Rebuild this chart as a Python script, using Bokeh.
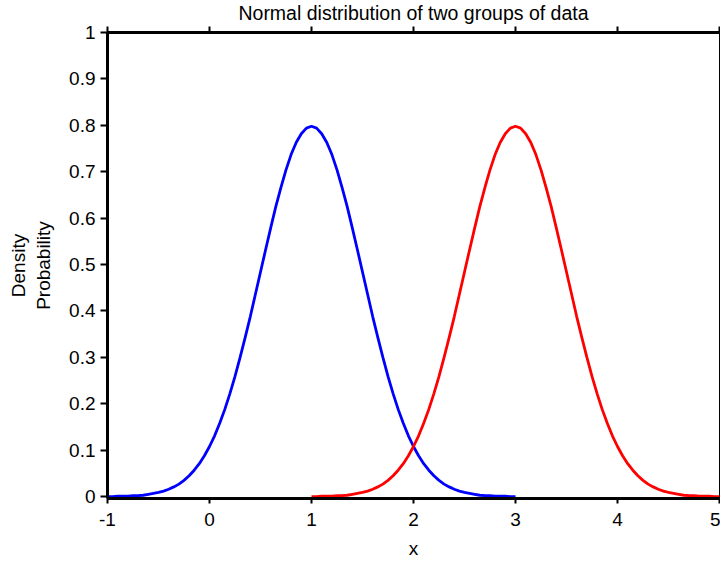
import numpy as np
from bokeh.plotting import figure
from bokeh.models import (LinearAxis, FixedTicker, Range1d,
                          CustomJSTickFormatter, CustomLabelingPolicy)
from bokeh.embed import file_html
from bokeh.resources import INLINE

# ---- data ----
blue_x = np.linspace(-1, 3, 81)
blue_density = [0.000, 0.000, 0.001, 0.001, 0.001, 0.002, 0.002, 0.003, 0.005, 0.007,
                0.009, 0.012, 0.016, 0.021, 0.027, 0.035, 0.045, 0.057, 0.071, 0.088,
                0.108, 0.131, 0.158, 0.188, 0.222, 0.259, 0.300, 0.343, 0.388, 0.436,
                0.484, 0.532, 0.579, 0.625, 0.666, 0.704, 0.737, 0.763, 0.782, 0.794,
                0.798,
                0.794, 0.782, 0.763, 0.737, 0.704, 0.666, 0.625, 0.579, 0.532, 0.484,
                0.436, 0.388, 0.343, 0.300, 0.259, 0.222, 0.188, 0.158, 0.131, 0.108,
                0.088, 0.071, 0.057, 0.045, 0.035, 0.027, 0.021, 0.016, 0.012, 0.009,
                0.007, 0.005, 0.003, 0.002, 0.002, 0.001, 0.001, 0.001, 0.000, 0.000]

red_x = np.linspace(1, 5, 81)
red_density = [0.000, 0.000, 0.001, 0.001, 0.001, 0.002, 0.002, 0.003, 0.005, 0.007,
               0.009, 0.012, 0.016, 0.021, 0.027, 0.035, 0.045, 0.057, 0.071, 0.088,
               0.108, 0.131, 0.158, 0.188, 0.222, 0.259, 0.300, 0.343, 0.388, 0.436,
               0.484, 0.532, 0.579, 0.625, 0.666, 0.704, 0.737, 0.763, 0.782, 0.794,
               0.798,
               0.794, 0.782, 0.763, 0.737, 0.704, 0.666, 0.625, 0.579, 0.532, 0.484,
               0.436, 0.388, 0.343, 0.300, 0.259, 0.222, 0.188, 0.158, 0.131, 0.108,
               0.088, 0.071, 0.057, 0.045, 0.035, 0.027, 0.021, 0.016, 0.012, 0.009,
               0.007, 0.005, 0.003, 0.002, 0.002, 0.001, 0.001, 0.001, 0.000, 0.000]

x_ticks = [-1, 0, 1, 2, 3, 4, 5]
y_ticks = [0, 0.1, 0.2, 0.3, 0.4, 0.5, 0.6, 0.7, 0.8, 0.9, 1]

title_text = "Normal distribution of two groups of data"
x_label = "x"
y_label = "Density\nProbability"

FONT = "Liberation Sans"
FS = "19px"

p = figure(width=720, height=561, output_backend="svg", toolbar_location=None,
           x_range=Range1d(-1, 5), y_range=Range1d(-0.004, 1),
           min_border_left=107, min_border_right=1, min_border_top=32,
           min_border_bottom=63, x_axis_location=None, y_axis_location=None)
p.background_fill_color = "white"
p.border_fill_color = "white"
p.grid.visible = False
p.outline_line_color = "black"
p.outline_line_width = 1

p.title.text = title_text
p.title.align = "center"
p.title.vertical_align = "top"
p.title.text_font = FONT
p.title.text_font_size = "19.5px"
p.title.text_font_style = "normal"
p.title.text_color = "black"
p.title.standoff = 2
p.title.offset = 0


def style_axis(ax, ticks):
    ax.ticker = FixedTicker(ticks=ticks)
    ax.axis_line_color = "black"
    ax.axis_line_width = 3
    ax.major_tick_line_color = "black"
    ax.major_tick_line_width = 2
    ax.major_tick_in = 0
    ax.minor_tick_line_color = None
    ax.major_label_text_font = FONT
    ax.major_label_text_font_size = FS
    ax.major_label_text_color = "black"
    ax.axis_label_text_font = FONT
    ax.axis_label_text_font_size = FS
    ax.axis_label_text_font_style = "normal"
    ax.axis_label_text_color = "black"


xb = LinearAxis(axis_label=x_label)
xt = LinearAxis()
yl = LinearAxis(axis_label=y_label)
style_axis(xb, x_ticks)
style_axis(xt, x_ticks)
style_axis(yl, y_ticks)
xb.major_tick_out = 5
xb.major_label_standoff = 9
xb.axis_label_standoff = 9
xt.major_tick_out = 6
xt.major_label_standoff = 0
xt.major_label_text_font_size = "0px"
xt.major_label_policy = CustomLabelingPolicy(code="""
try {
  for (const i of Array.from(indices)) { indices.unset(i); }
} catch (e) {
  try { for (const i of Array.from(indices)) { indices.set(i, false); } } catch (e2) {}
}
return indices;
""")
yl.major_tick_out = 7
yl.major_label_standoff = 5
yl.axis_label_standoff = 12
xb.formatter = CustomJSTickFormatter(code="return String(tick);")
yl.formatter = CustomJSTickFormatter(code="return String(tick);")
p.add_layout(xb, "below")
p.add_layout(xt, "above")
p.add_layout(yl, "left")

p.line(blue_x, blue_density, line_color="#0000ff", line_width=2.8)
p.line(red_x, red_density, line_color="#ff0000", line_width=2.8)

open("out.html", "w").write(file_html(p, INLINE))
